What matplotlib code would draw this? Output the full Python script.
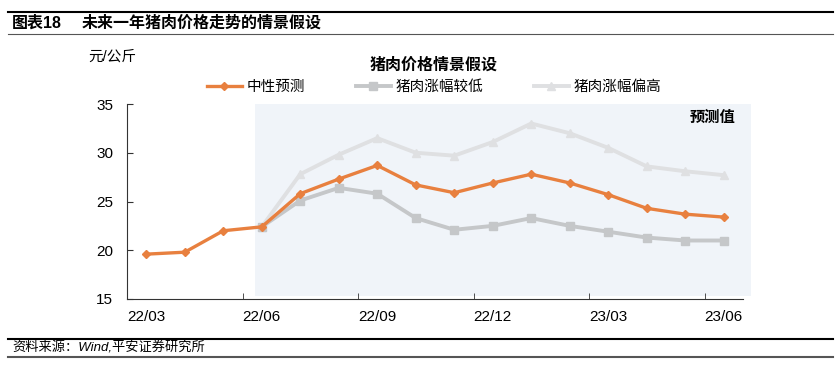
import matplotlib
matplotlib.use('Agg')
import matplotlib.pyplot as plt
from matplotlib.patches import Rectangle
from matplotlib.lines import Line2D

plt.rcParams['font.family'] = ['Liberation Sans', 'Noto Sans CJK SC', 'DejaVu Sans']

months = ['22/03', '22/04', '22/05', '22/06', '22/07', '22/08', '22/09', '22/10',
          '22/11', '22/12', '23/01', '23/02', '23/03', '23/04', '23/05', '23/06']
neutral = [19.6, 19.8, 22.0, 22.4, 25.8, 27.3, 28.7, 26.7,
           25.9, 26.9, 27.8, 26.9, 25.7, 24.3, 23.7, 23.4]
low = [None, None, None, 22.4, 25.1, 26.4, 25.8, 23.3,
       22.1, 22.5, 23.3, 22.5, 21.9, 21.3, 21.0, 21.0]
high = [None, None, None, 22.4, 27.8, 29.8, 31.5, 30.0,
        29.7, 31.1, 33.0, 32.0, 30.5, 28.6, 28.1, 27.7]
tick_labels = ['22/03', '22/06', '22/09', '22/12', '23/03', '23/06']

orange = '#E8803F'
grey = '#C5C7C9'
light = '#DFE0E2'

fig = plt.figure(figsize=(8.39, 3.72), dpi=100)
ax = fig.add_axes([127/839, 1-299/372, 616/839, 195/372])

x = list(range(len(months)))
xs_f = [i for i in x if low[i] is not None]

# shaded forecast area
ax.add_patch(Rectangle((2.82, 15.3), 12.9, 19.7, facecolor='#F0F4F9',
                       edgecolor='none', clip_on=False, zorder=0))

ax.plot(xs_f, [high[i] for i in xs_f], color=light, lw=2.8, marker='^', ms=6, zorder=2)
ax.plot(xs_f, [low[i] for i in xs_f], color=grey, lw=2.8, marker='s', ms=5.5, zorder=3)
ax.plot(x, neutral, color=orange, lw=2.4, marker='D', ms=4, zorder=4)

ax.set_xlim(-0.5, 15.5)
ax.set_ylim(15, 35)
ax.set_yticks([15, 20, 25, 30, 35])
ax.set_xticks([0, 3, 6, 9, 12, 15])
ax.set_xticklabels(tick_labels)
ax.set_xticks([2.5, 5.5, 8.5, 11.5, 14.5], minor=True)
ax.tick_params(axis='x', which='major', length=0, pad=8, labelsize=11)
ax.tick_params(axis='x', which='minor', length=4, direction='in', color='#333333')
ax.tick_params(axis='y', length=4, direction='in', labelsize=11, pad=10, color='#333333')
ax.spines['top'].set_visible(False)
ax.spines['right'].set_visible(False)
ax.spines['left'].set_color('#333333')
ax.spines['bottom'].set_color('#333333')
ax.patch.set_alpha(0)

ax.text(15.3, 33.6, '预测值', fontsize=11, fontweight='bold', ha='right', va='center')

fig.text(88/839, 1-57/372, '元/公斤', fontsize=10.5, va='center')
fig.text(434/839, 1-65/372, '猪肉价格情景假设', fontsize=11.5, fontweight='bold',
         ha='center', va='center')

handles = [Line2D([], [], color=orange, lw=2.4, marker='D', ms=4),
           Line2D([], [], color=grey, lw=2.8, marker='s', ms=5.5),
           Line2D([], [], color=light, lw=2.8, marker='^', ms=6)]
fig.legend(handles, ['中性预测', '猪肉涨幅较低', '猪肉涨幅偏高'], loc='center',
           bbox_to_anchor=(434/839, 1-87/372), ncol=3, frameon=False, fontsize=10.5,
           handlelength=2.4, handletextpad=0.3, columnspacing=3.5)

# header and footer
fig.add_artist(Line2D([8/839, 833/839], [1-12/372, 1-12/372], color='black', lw=1.5))
fig.add_artist(Line2D([8/839, 833/839], [1-34/372, 1-34/372], color='#555555', lw=0.8))
fig.text(12/839, 1-23/372, '图表18', fontsize=11.5, fontweight='bold', va='center')
fig.text(82/839, 1-23/372, '未来一年猪肉价格走势的情景假设', fontsize=11.5,
         fontweight='bold', va='center')

fig.add_artist(Line2D([8/839, 833/839], [1-339/372, 1-339/372], color='black', lw=1.5))
fig.add_artist(Line2D([8/839, 833/839], [1-357/372, 1-357/372], color='#555555', lw=1.5))
fig.text(12/839, 1-348/372, '资料来源：Wind,平安证券研究所', fontsize=9.5,
         style='italic', va='center')

fig.savefig('out.png', dpi=100)
